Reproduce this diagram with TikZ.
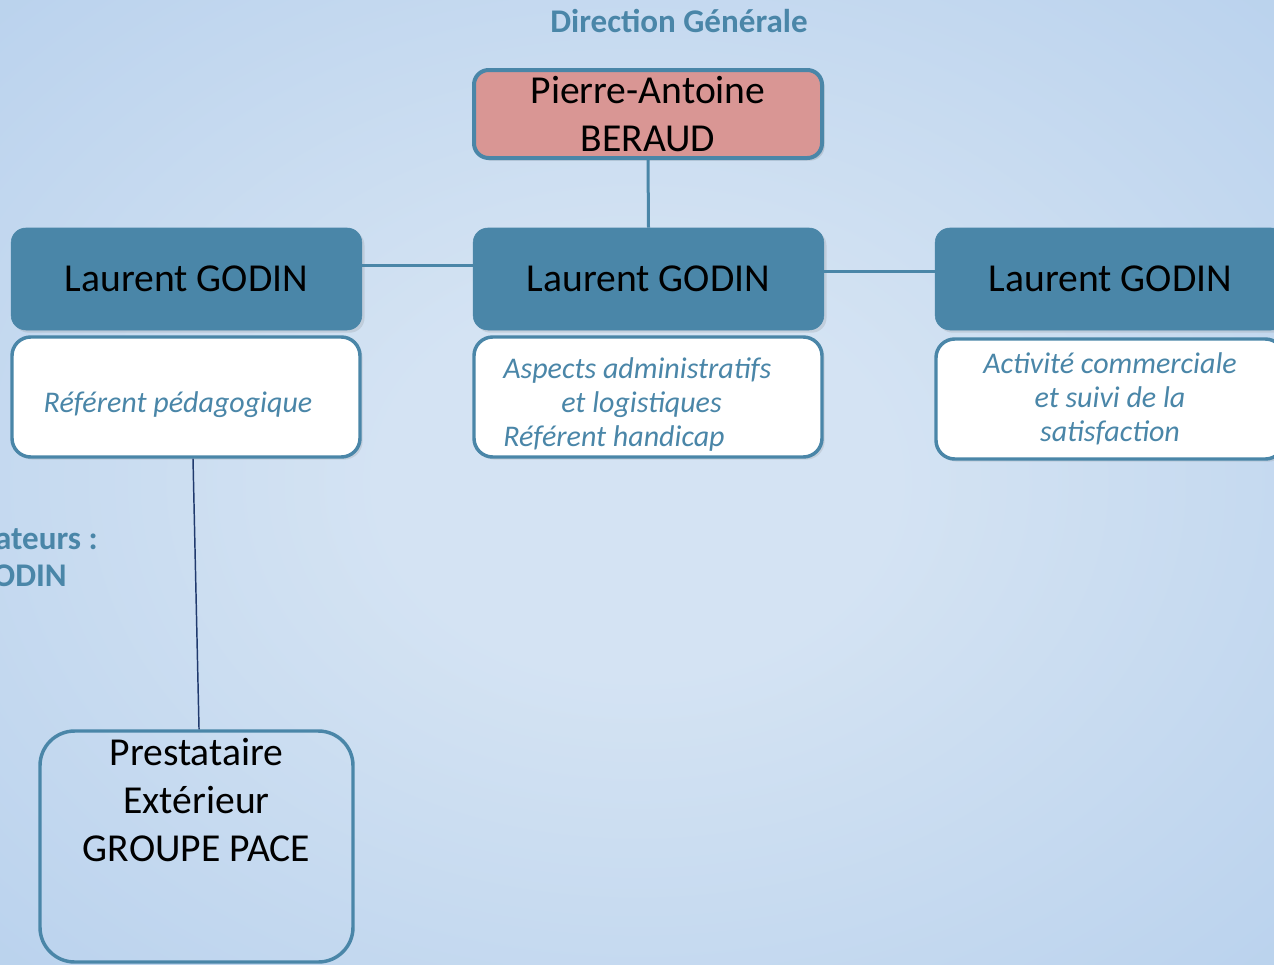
\documentclass[tikz,border=0pt]{standalone}
\usepackage{fontspec}
\setmainfont{Carlito}
\usetikzlibrary{positioning,shadows}

\definecolor{steel}{RGB}{74,134,168}
\definecolor{rosebox}{RGB}{217,150,148}
\definecolor{bgin}{RGB}{212,227,243}
\definecolor{bgmid}{RGB}{172,201,234}
\definecolor{bgout}{RGB}{144,181,226}
\definecolor{navyline}{RGB}{32,58,110}

\pgfdeclareradialshading{bgshade}{\pgfpoint{0bp}{0bp}}{color(0bp)=(bgin); color(10bp)=(bgin); color(50bp)=(bgmid); color(72bp)=(bgout)}

\begin{document}
\begin{tikzpicture}[x=0.75pt,y=-0.75pt,
    boss/.style={draw=steel, line width=3pt, fill=rosebox, rounded corners=11pt,
        minimum width=261pt, minimum height=66pt, align=center,
        font=\fontsize{29.7}{35.3}\selectfont,
        drop shadow={opacity=0.25,shadow xshift=2pt,shadow yshift=-2pt}},
    godin/.style={draw=steel, fill=steel, rounded corners=11pt,
        minimum width=263pt, minimum height=76.5pt,
        font=\fontsize{29.7}{35.3}\selectfont,
        drop shadow={opacity=0.2,shadow xshift=2pt,shadow yshift=-2pt}},
    role/.style={draw=steel, line width=2.6pt, fill=white, rounded corners=14pt,
        minimum width=261pt, minimum height=90pt,
        drop shadow={opacity=0.2,shadow xshift=2pt,shadow yshift=-2pt}},
    roletext/.style={text=steel, align=center, inner sep=0pt,
        font=\itshape\fontsize{22.5}{25.5}\selectfont},
    extbox/.style={draw=steel, line width=2.6pt, rounded corners=26pt,
        minimum width=234.75pt, minimum height=173.25pt},
    heading/.style={text=steel, font=\bfseries\fontsize{24.8}{30}\selectfont, inner sep=0pt},
    link/.style={draw=steel, line width=2.25pt},
    thinlink/.style={draw=navyline, line width=1.1pt}]

    \useasboundingbox (0,0) rectangle (1274,964);
    \clip (0,0) rectangle (1274,964);
    \shade[shading=bgshade] (0,0) rectangle (1274,964);

    \node[heading] (title) at (679,21) {Direction Générale};
    \node[heading, anchor=east] (sidea) at (98,539) {ateurs :};
    \node[heading, anchor=east] (sideb) at (67,576) {ODIN};

    % director
    \node[boss] (boss) at (648,114) {Pierre-Antoine\\BERAUD};

    % the three managers
    \node[godin] (gl) at (186.5,279) {Laurent GODIN};
    \node[godin] (gm) at (648.5,279) {Laurent GODIN};
    \node[godin] (gr) at (1110.5,279) {Laurent GODIN};

    % their roles
    \node[role] (wl) at (186,397) {};
    \node[roletext] (wltxt) at (178,405) {Référent pédagogique};
    \node[role] (wm) at (648,397) {};
    \node[roletext, align=flush left, anchor=west] (wmtxt) at (503,404)
        {Aspects administratifs\\\hspace*{43.5pt}et logistiques\\Référent handicap};
    \node[role] (wr) at (1110,399) {};
    \node[roletext] (wrtxt) at (1110,399) {Activité commerciale\\et suivi de la\\satisfaction};

    % outside provider
    \node[extbox] (presta) at (196.5,846.5) {};
    \node[align=center, font=\fontsize{29.7}{36}\selectfont] (prestatxt) at (196.5,800.5)
        {Prestataire\\Extérieur\\GROUPE PACE};

    % links
    \draw[link] (boss.south) -- (gm.north);
    \draw[link] ([yshift=10.5pt]gl.east) -- ([yshift=10.5pt]gm.west);
    \draw[link] ([yshift=6pt]gm.east) -- ([yshift=6pt]gr.west);
    \draw[thinlink] ([xshift=5.25pt]wl.south) -- ([xshift=1.9pt]presta.north);
\end{tikzpicture}
\end{document}
